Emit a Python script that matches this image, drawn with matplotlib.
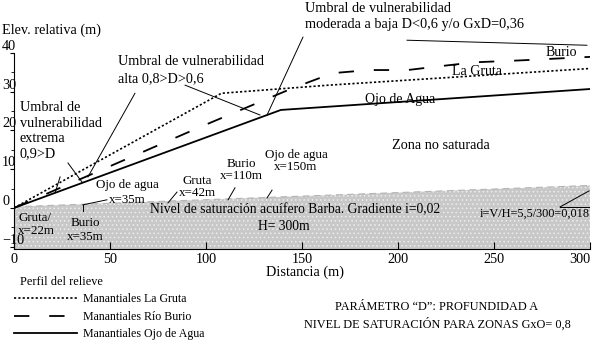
"""Perfil de relieve y nivel de saturación, parámetro D (GxO = 0,8)."""
import matplotlib

matplotlib.use("Agg")
import matplotlib.pyplot as plt
import numpy as np

plt.rcParams["font.family"] = ["Liberation Serif", "DejaVu Serif"]
plt.rcParams["font.size"] = 10.3
plt.rcParams["hatch.linewidth"] = 0.6

# perfiles del relieve (distancia m, elevación relativa m)
GRUTA_X = [0, 108, 164, 300]
GRUTA_Y = [0, 29.6, 31.7, 36.0]
BURIO_X = [0, 97, 145, 166, 185, 205, 222, 240, 264, 300]
BURIO_Y = [0, 20.9, 30.9, 34.8, 35.6, 35.6, 36.6, 37.6, 38.1, 39.0]
OJO_X = [0, 139, 300]
OJO_Y = [0, 25.3, 30.7]

# nivel de saturación acuífero Barba
NIVEL_X = [0, 300]
NIVEL_Y = [0.3, 5.8]
BASE_Y = -10.6

X_TICKS = [0, 50, 100, 150, 200, 250, 300]
Y_TICKS = [-10, 0, 10, 20, 30, 40]


def seg(ax, p, q, lw=0.7):
    ax.plot([p[0], q[0]], [p[1], q[1]], color="black", lw=lw, clip_on=False)


def main() -> None:
    fig = plt.figure(figsize=(5.95, 3.49), dpi=100)
    ax = fig.add_axes([14 / 595, 100 / 349, 576 / 595, 196 / 349])
    ax.set_xlim(0, 300)
    ax.set_ylim(BASE_Y, 40)

    nx = np.array(NIVEL_X, dtype=float)
    ny = np.array(NIVEL_Y, dtype=float)
    ax.fill_between(nx, BASE_Y, ny, facecolor="#c8c8c8", edgecolor="#ededed",
                    hatch="....", linewidth=0)
    ax.plot(nx, ny, color="#b4b4b4", lw=0.8, ls=(0, (6, 4)))

    gruta, = ax.plot(GRUTA_X, GRUTA_Y, color="black", lw=1.2, ls=(0, (1.3, 1.3)))
    burio, = ax.plot(BURIO_X, BURIO_Y, color="black", lw=1.3, ls=(0, (8.5, 11)))
    ojo, = ax.plot(OJO_X, OJO_Y, color="black", lw=1.3)

    for s in ("top", "right"):
        ax.spines[s].set_visible(False)
    ax.spines["left"].set_bounds(BASE_Y, 40)
    ax.set_xticks(X_TICKS)
    ax.set_yticks(Y_TICKS)
    ax.set_yticks(np.arange(-5, 40, 10), minor=True)
    ax.tick_params(axis="x", direction="in", length=5, pad=3)
    ax.tick_params(axis="y", direction="out", length=3, pad=5.6)
    ax.tick_params(axis="y", which="minor", direction="out", length=2)
    for lab in ax.get_yticklabels():
        lab.set_va("bottom")
        lab.set_ha("left")
    ax.get_xticklabels()[-1].set_ha("right")
    ax.set_xlabel("Distancia (m)")
    ax.xaxis.set_label_coords(0.505, -0.085)

    ax.text(-6.2, 45.9, "Elev. relativa (m)", ha="left", va="center", clip_on=False)

    # umbrales
    ax.text(151.6, 49.4, "Umbral de vulnerabilidad\nmoderada a baja D<0,6 y/o GxD=0,36",
            ha="left", va="center", linespacing=1.3, clip_on=False)
    seg(ax, (150.5, 44.1), (131.8, 24.0))
    seg(ax, (204.7, 43.3), (298.4, 42.0))
    ax.text(54.2, 35.6, "Umbral de vulnerabilidad\nalta 0,8>D>0,6",
            ha="left", va="center", linespacing=1.35)
    seg(ax, (89.1, 31.7), (128.1, 24.0))
    seg(ax, (63.0, 29.6), (38.5, 8.0))
    ax.text(3.1, 19.9, "Umbral de\nvulnerabilidad\nextrema\n0,9>D",
            ha="left", va="center", linespacing=1.25)
    seg(ax, (24.0, 8.0), (21.4, 3.9))
    seg(ax, (28.1, 11.6), (35.4, 6.7))

    # manantiales
    fs = 9.4
    ax.text(58.9, 3.9, "Ojo de agua\nx=35m", ha="center", va="center",
            fontsize=fs, linespacing=1.3)
    seg(ax, (48.4, 2.1), (35.9, 0.8))
    seg(ax, (35.9, 0.8), (35.9, -0.8))
    ax.text(2.1, -4.3, "Gruta/\nx=22m", ha="left", va="center", fontsize=fs,
            linespacing=1.15)
    ax.text(37.0, -5.7, "Burio\nx=35m", ha="center", va="center", fontsize=fs,
            linespacing=1.2)
    ax.text(95.3, 5.4, "Gruta\nx=42m", ha="center", va="center", fontsize=fs,
            linespacing=1.05)
    seg(ax, (84.9, 4.1), (80.2, 1.3))
    ax.text(118.2, 9.8, "Burio\nx=110m", ha="center", va="center", fontsize=fs,
            linespacing=1.05)
    seg(ax, (115.1, 5.2), (111.5, 2.1))
    ax.text(146.9, 12.0, "Ojo de agua\nx=150m", ha="center", va="center",
            fontsize=fs, linespacing=1.0)
    seg(ax, (134.4, 4.6), (131.8, 2.6))

    ax.text(70.8, -0.5, "Nivel de saturación acuífero Barba. Gradiente i=0,02",
            ha="left", va="center", fontsize=9.8)
    ax.text(140.6, -4.9, "H= 300m", ha="center", va="center", fontsize=9.8)
    ax.text(222.4, 16.2, "Zona no saturada", ha="center", va="center")
    ax.text(300, -1.5, "i=V/H=5,5/300=0,018", ha="right", va="center", fontsize=8.8)
    seg(ax, (284.4, 0.26), (299.5, 4.4))
    seg(ax, (284.4, 0.26), (299.5, 0.26))

    ax.text(228.1, 35.3, "La Gruta", ha="left", va="center", fontsize=10)
    ax.text(276.6, 40.2, "Burio", ha="left", va="center", fontsize=10,
            clip_on=False)
    ax.text(183.0, 28.0, "Ojo de Agua", ha="left", va="center", fontsize=10)

    leg = fig.legend(handles=[gruta, burio, ojo],
                     labels=["Manantiales La Gruta", "Manantiales Río Burio",
                             "Manantiales Ojo de Agua"],
                     title="Perfil del relieve", loc="upper left",
                     bbox_to_anchor=(14 / 595, 1 - 276 / 349), frameon=False,
                     fontsize=8.6, title_fontsize=8.8, handlelength=5.3,
                     handletextpad=0.45, labelspacing=0.45, borderpad=0,
                     borderaxespad=0, alignment="left")
    leg.get_title().set_position((6, 0))

    fig.text(437 / 595, 1 - 316 / 349,
             "PARÁMETRO “D”: PROFUNDIDAD A\nNIVEL DE SATURACIÓN PARA ZONAS GxO= 0,8",
             ha="center", va="center", fontsize=8.8, linespacing=1.45)

    fig.savefig("out.png", dpi=100)


if __name__ == "__main__":
    main()
